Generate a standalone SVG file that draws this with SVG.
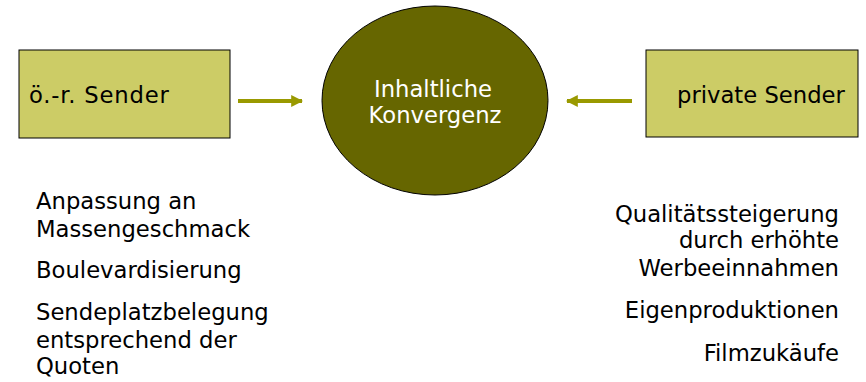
<svg xmlns="http://www.w3.org/2000/svg" width="866" height="382" viewBox="0 0 866 382">
<style>
.box{fill:#cccc66;stroke:#000;stroke-width:1}
.t{font-family:"DejaVu Sans",Verdana,sans-serif;font-size:22.7px;fill:#000}
.w{fill:#fff}
.conn{stroke:#999900;stroke-width:4;fill:none}
</style>
<defs>
<marker id="ah" viewBox="0 0 10 10" refX="9" refY="5" markerWidth="3" markerHeight="3" markerUnits="strokeWidth" orient="auto">
<path d="M0,0 L10,5 L0,10 z" fill="#999900"/>
</marker>
</defs>
<rect width="866" height="382" fill="#fff"/>
<g id="oer-sender">
<rect class="box" x="19" y="50" width="211" height="88"/>
<text class="t" x="29" y="103" letter-spacing="0.8">ö.-r. Sender</text>
</g>
<g id="private-sender">
<rect class="box" x="646" y="50" width="212" height="87"/>
<text class="t" x="677" y="103">private Sender</text>
</g>
<g id="konvergenz">
<ellipse cx="435" cy="100.5" rx="113" ry="94.5" fill="#666600" stroke="#000" stroke-width="1"/>
<text class="t w" x="433" y="97" text-anchor="middle">Inhaltliche</text>
<text class="t w" x="435" y="123" text-anchor="middle">Konvergenz</text>
</g>
<g id="connectors">
<line class="conn" x1="238" y1="101" x2="302" y2="101" marker-end="url(#ah)"/>
<line class="conn" x1="632" y1="101" x2="567" y2="101" marker-end="url(#ah)"/>
</g>
<g id="left-notes">
<text class="t" x="36" y="209">Anpassung an</text>
<text class="t" x="36" y="237">Massengeschmack</text>
<text class="t" x="36" y="278">Boulevardisierung</text>
<text class="t" x="36" y="320">Sendeplatzbelegung</text>
<text class="t" x="36" y="348">entsprechend der</text>
<text class="t" x="36" y="374">Quoten</text>
</g>
<g id="right-notes" text-anchor="end">
<text class="t" x="839" y="222">Qualitätssteigerung</text>
<text class="t" x="839" y="248">durch erhöhte</text>
<text class="t" x="839" y="276">Werbeeinnahmen</text>
<text class="t" x="839" y="318">Eigenproduktionen</text>
<text class="t" x="839" y="361">Filmzukäufe</text>
</g>
</svg>
